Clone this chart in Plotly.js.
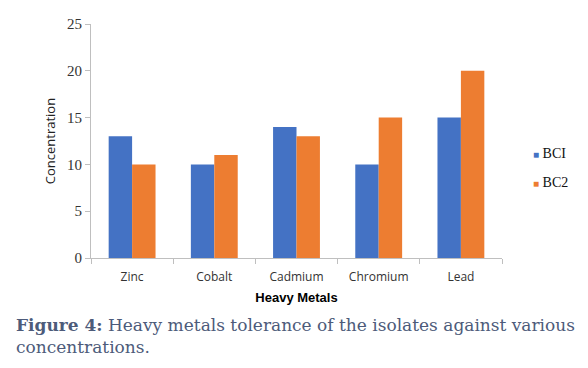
<!DOCTYPE html>
<html>
<head>
<meta charset="utf-8">
<script src="https://cdn.plot.ly/plotly-3.0.1.min.js"></script>
<style>html,body{margin:0;padding:0;background:#fff;}#chart{width:588px;height:368px;}</style>
</head>
<body>
<div id="chart"></div>
<script>
var categories = ["Zinc", "Cobalt", "Cadmium", "Chromium", "Lead"];
var seriesNames = ["BCI", "BC2"];
var bc1Values = [13, 10, 14, 10, 15];
var bc2Values = [10, 11, 13, 15, 20];
var yTicks = [0, 5, 10, 15, 20, 25];
var colors = ["#4472C4", "#ED7D31"];
var xTitle = "Heavy Metals";
var yTitle = "Concentration";
var captionBold = "Figure 4:";
var captionText = " Heavy metals tolerance of the isolates against various<br>concentrations.";

var traces = [
  {type: "bar", x: categories, y: bc1Values, name: seriesNames[0], marker: {color: colors[0]}, hoverinfo: "none"},
  {type: "bar", x: categories, y: bc2Values, name: seriesNames[1], marker: {color: colors[1]}, hoverinfo: "none"}
];

var legendAnn = seriesNames.map(function (n, i) {
  return {
    xref: "paper", yref: "paper", x: 1.07, y: (258 - 153 - i * 29) / 234,
    xanchor: "left", yanchor: "middle", showarrow: false,
    text: '<span style="color:' + colors[i] + ';font-size:10px">\u25A0</span> ' + n,
    font: {family: "Liberation Serif, serif", size: 14, color: "#111"}
  };
});

var layout = {
  width: 588, height: 368,
  margin: {l: 91, r: 86, t: 24, b: 110, autoexpand: false},
  paper_bgcolor: "#fff", plot_bgcolor: "#fff",
  barmode: "group", bargap: 0.43, bargroupgap: 0,
  showlegend: false,
  xaxis: {
    type: "category", showline: true, linecolor: "#bfbfbf", linewidth: 1,
    ticks: "outside", tickson: "boundaries", ticklen: 5, tickcolor: "#bfbfbf",
    ticklabelstandoff: 8,
    tickfont: {family: "Open Sans, sans-serif", size: 12, color: "#333"},
    showgrid: false, zeroline: false, automargin: false,
    title: {text: "<b>" + xTitle + "</b>", font: {family: "Liberation Sans Narrow, Liberation Sans, sans-serif", size: 13, color: "#000"}, standoff: 8}
  },
  yaxis: {
    range: [0, 25], tickvals: yTicks, showline: true, linecolor: "#bfbfbf", linewidth: 1,
    ticks: "outside", ticklen: 5, tickcolor: "#bfbfbf",
    tickfont: {family: "Liberation Serif, serif", size: 15, color: "#333"},
    showgrid: false, zeroline: false, automargin: false,
    title: {text: yTitle, font: {family: "Open Sans, sans-serif", size: 13, color: "#222"}, standoff: 8}
  },
  annotations: legendAnn.concat([{
    xref: "paper", yref: "paper", x: (14 - 91) / 411, y: (258 - 313) / 234,
    xanchor: "left", yanchor: "top", align: "left", showarrow: false,
    text: "<b>" + captionBold + "</b>" + captionText,
    font: {family: "DejaVu Serif, serif", size: 17, color: "#4d5b7a"}
  }])
};

Plotly.newPlot("chart", traces, layout, {displayModeBar: false, staticPlot: true});
</script>
</body>
</html>
